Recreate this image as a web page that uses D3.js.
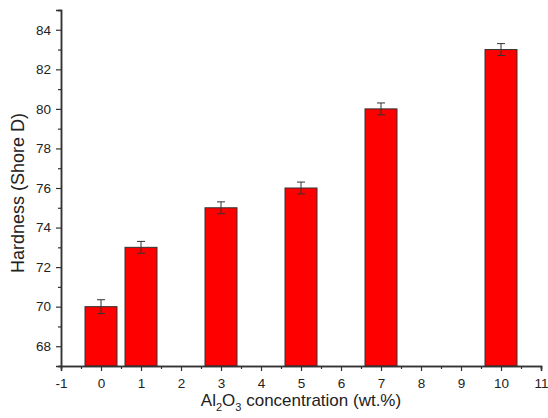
<!DOCTYPE html>
<html>
<head>
<meta charset="utf-8">
<script src="https://d3js.org/d3.v7.min.js"></script>
<style>
  body { margin: 0; background: #fff; }
  text { font-family: "Liberation Sans", Arial, sans-serif; }
</style>
</head>
<body>
<div id="canvas"></div>
<script>
// data
var concentrations = [0, 1, 3, 5, 7, 10];
var hardness = [70, 73, 75, 76, 80, 83];
var errors = [0.35, 0.3, 0.3, 0.3, 0.3, 0.3];
var xTicks = [-1, 0, 1, 2, 3, 4, 5, 6, 7, 8, 9, 10, 11];
var yTicks = [68, 70, 72, 74, 76, 78, 80, 82, 84];

var width = 548, height = 418;
var plotLeft = 61, plotRight = 541, plotTop = 10, plotBottom = 366;

var svg = d3.select("#canvas")
  .append("svg")
  .attr("width", width)
  .attr("height", height);

var x = d3.scaleLinear().domain([-1, 11]).range([plotLeft, plotRight]);
var y = d3.scaleLinear().domain([67, 85]).range([plotBottom, plotTop]);
var barW = x(0.4) - x(-0.4);

// bars
svg.selectAll("rect.bar")
  .data(concentrations)
  .enter()
  .append("rect")
  .attr("class", "bar")
  .attr("x", function(d) { return x(d) - barW / 2; })
  .attr("y", function(d, i) { return y(hardness[i]); })
  .attr("width", barW)
  .attr("height", function(d, i) { return y(67) - y(hardness[i]); })
  .style("fill", "#ff0000")
  .style("stroke", "#333")
  .style("stroke-width", 1);

// error bars
var err = svg.selectAll("g.err")
  .data(concentrations)
  .enter()
  .append("g")
  .attr("class", "err")
  .style("stroke", "#333")
  .style("stroke-width", 1);
err.append("line")
  .attr("x1", function(d) { return x(d); })
  .attr("x2", function(d) { return x(d); })
  .attr("y1", function(d, i) { return y(hardness[i] + errors[i]); })
  .attr("y2", function(d, i) { return y(hardness[i] - errors[i]); });
[1, -1].forEach(function(s) {
  err.append("line")
    .attr("x1", function(d) { return x(d) - 4; })
    .attr("x2", function(d) { return x(d) + 4; })
    .attr("y1", function(d, i) { return y(hardness[i] + s * errors[i]); })
    .attr("y2", function(d, i) { return y(hardness[i] + s * errors[i]); });
});

// axes
var fmt = function(d) { return String(d); };
var xAxis = d3.axisBottom(x).tickValues(xTicks).tickFormat(fmt).tickSize(5).tickPadding(7);
var xMinor = d3.axisBottom(x).tickValues(d3.range(-0.5, 11, 1)).tickFormat("").tickSize(3);
var yAxis = d3.axisLeft(y).tickValues(yTicks).tickFormat(fmt).tickSize(5).tickPadding(5);
var yMinor = d3.axisLeft(y).tickValues(d3.range(67, 85.1, 2)).tickFormat("").tickSize(3);

function styleAxis(g) {
  g.select(".domain").style("stroke", "#333").style("stroke-width", 1.5);
  g.selectAll(".tick line").style("stroke", "#333").style("stroke-width", 1.2);
  g.selectAll(".tick text").style("font-size", "13.5px").style("fill", "#222")
    .style("font-family", "'Liberation Sans', Arial, sans-serif");
}

svg.append("g").attr("transform", "translate(0," + plotBottom + ")").call(xMinor).call(styleAxis);
svg.append("g").attr("transform", "translate(0," + plotBottom + ")").call(xAxis).call(styleAxis);
svg.append("g").attr("transform", "translate(" + plotLeft + ",0)").call(yMinor).call(styleAxis);
svg.append("g").attr("transform", "translate(" + plotLeft + ",0)").call(yAxis).call(styleAxis);

// labels
var xl = svg.append("text")
  .attr("x", 301)
  .attr("y", 406)
  .attr("text-anchor", "middle")
  .style("font-size", "17px")
  .style("fill", "#222");
xl.append("tspan").text("Al");
xl.append("tspan").attr("dy", 5).style("font-size", "11px").text("2");
xl.append("tspan").attr("dy", -5).text("O");
xl.append("tspan").attr("dy", 5).style("font-size", "11px").text("3");
xl.append("tspan").attr("dy", -5).text(" concentration (wt.%)");

svg.append("text")
  .attr("transform", "translate(24,193) rotate(-90)")
  .attr("text-anchor", "middle")
  .style("font-size", "18px")
  .style("fill", "#222")
  .text("Hardness (Shore D)");
</script>
</body>
</html>
